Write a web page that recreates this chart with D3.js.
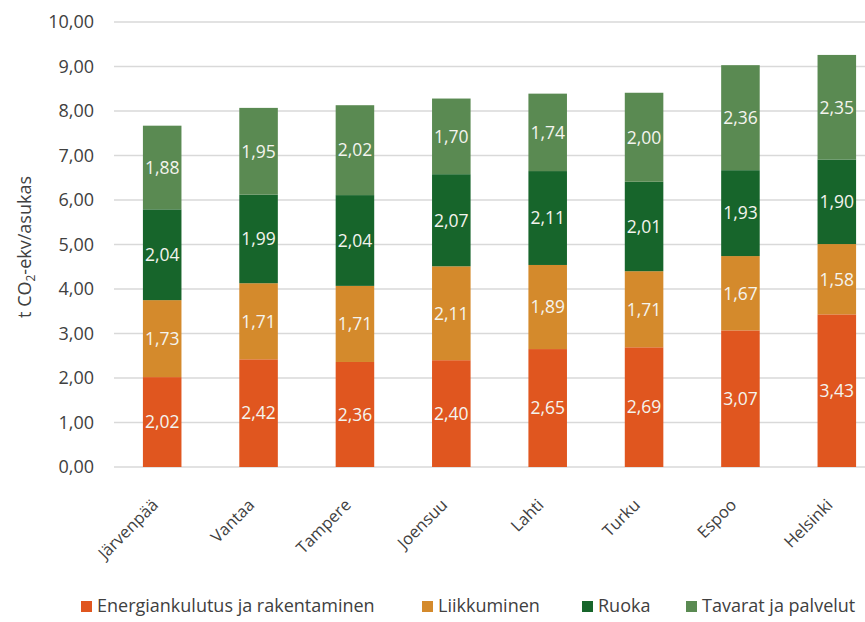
<!DOCTYPE html>
<html>
<head>
<meta charset="utf-8">
<script src="https://cdn.jsdelivr.net/npm/d3@7"></script>
<style>
  body { margin: 0; background: #fff; }
  svg text { font-family: "Open Sans", "Noto Sans", sans-serif; }
</style>
</head>
<body>
<div id="chart"></div>
<script>
var cities = ["Järvenpää", "Vantaa", "Tampere", "Joensuu", "Lahti", "Turku", "Espoo", "Helsinki"];
var seriesNames = ["Energiankulutus ja rakentaminen", "Liikkuminen", "Ruoka", "Tavarat ja palvelut"];
var energia = [2.02, 2.42, 2.36, 2.40, 2.65, 2.69, 3.07, 3.43];
var liikkuminen = [1.73, 1.71, 1.71, 2.11, 1.89, 1.71, 1.67, 1.58];
var ruoka = [2.04, 1.99, 2.04, 2.07, 2.11, 2.01, 1.93, 1.90];
var tavarat = [1.88, 1.95, 2.02, 1.70, 1.74, 2.00, 2.36, 2.35];
var yTicks = [0, 1, 2, 3, 4, 5, 6, 7, 8, 9, 10];
var colors = ["#e0561f", "#d48a2c", "#17652b", "#5a8a52"];

var W = 865, H = 622;
var margin = { top: 22, right: -20, bottom: 155, left: 114 }
    w = W - margin.left - margin.right
    h = H - margin.top - margin.bottom

var svg = d3.select("#chart").append("svg")
    .attr("width", W)
    .attr("height", H)

var g = svg.append("g")
    .attr("transform", "translate(" + margin.left + "," + margin.top + ")")

var rows = cities.map(function(c, i) {
    return { city: c, s0: energia[i], s1: liikkuminen[i], s2: ruoka[i], s3: tavarat[i] };
});
var stack = d3.stack().keys(["s0", "s1", "s2", "s3"])(rows);

var x = d3.scaleBand()
    .domain(cities)
    .range([0, w])
    .paddingInner(0.6)
    .paddingOuter(0.3);

var y = d3.scaleLinear()
    .domain([0, 10])
    .range([h, 0]);

var fmt = function(d) { return d3.format(".2f")(d).replace(".", ","); };

// gridlines
g.append("g")
    .selectAll("line")
    .data(yTicks)
    .enter().append("line")
        .attr("x1", 0)
        .attr("x2", w)
        .attr("y1", function(d) { return y(d); })
        .attr("y2", function(d) { return y(d); })
        .attr("stroke", "#d9d9d9")
        .attr("stroke-width", 1.3);

// y axis labels
var yAxis = g.append("g")
    .call(d3.axisLeft(y).tickValues(yTicks).tickSize(0).tickPadding(20).tickFormat(fmt));
yAxis.select(".domain").remove();
yAxis.selectAll("text")
    .attr("font-size", 18)
    .attr("fill", "#404040");

// bars
var layers = g.selectAll(".layer")
    .data(stack)
    .enter().append("g")
        .attr("class", "layer")
        .attr("fill", function(d, i) { return colors[i]; });

layers.selectAll("rect")
    .data(function(d) { return d; })
    .enter().append("rect")
        .attr("x", function(d) { return x(d.data.city); })
        .attr("y", function(d) { return y(d[1]); })
        .attr("height", function(d) { return y(d[0]) - y(d[1]); })
        .attr("width", x.bandwidth());

layers.selectAll("text")
    .data(function(d) { return d; })
    .enter().append("text")
        .attr("x", function(d) { return x(d.data.city) + x.bandwidth() / 2; })
        .attr("y", function(d) { return (y(d[0]) + y(d[1])) / 2; })
        .attr("dy", "0.36em")
        .attr("text-anchor", "middle")
        .attr("font-size", 17.5)
        .attr("fill", "#f4f4ee")
        .text(function(d) { return fmt(d[1] - d[0]); });

// x axis labels
var xAxis = g.append("g")
    .attr("transform", "translate(0," + h + ")")
    .call(d3.axisBottom(x).tickSize(0).tickPadding(0));
xAxis.select(".domain").remove();
xAxis.selectAll("text")
    .attr("font-size", 16.5)
    .attr("fill", "#404040")
    .attr("text-anchor", "end")
    .attr("dy", 0)
    .attr("transform", "translate(-3,39) rotate(-45)");

// y title
svg.append("text")
    .attr("transform", "translate(31," + 247 + ") rotate(-90)")
    .attr("text-anchor", "middle")
    .attr("font-size", 18)
    .attr("fill", "#404040")
    .html('t CO<tspan font-size="12" dy="4">2</tspan><tspan dy="-4">-ekv/asukas</tspan>');

// legend
var legendX = [81, 422, 582, 686];
var legend = svg.append("g").attr("transform", "translate(0,606)");
var items = legend.selectAll("g")
    .data(seriesNames)
    .enter().append("g")
        .attr("transform", function(d, i) { return "translate(" + legendX[i] + ",0)"; });
items.append("rect")
    .attr("x", 0).attr("y", -5)
    .attr("width", 11).attr("height", 11)
    .attr("fill", function(d, i) { return colors[i]; });
items.append("text")
    .attr("x", 16)
    .attr("dy", "0.36em")
    .attr("font-size", 18)
    .attr("fill", "#404040")
    .text(function(d) { return d; });
</script>
</body>
</html>
